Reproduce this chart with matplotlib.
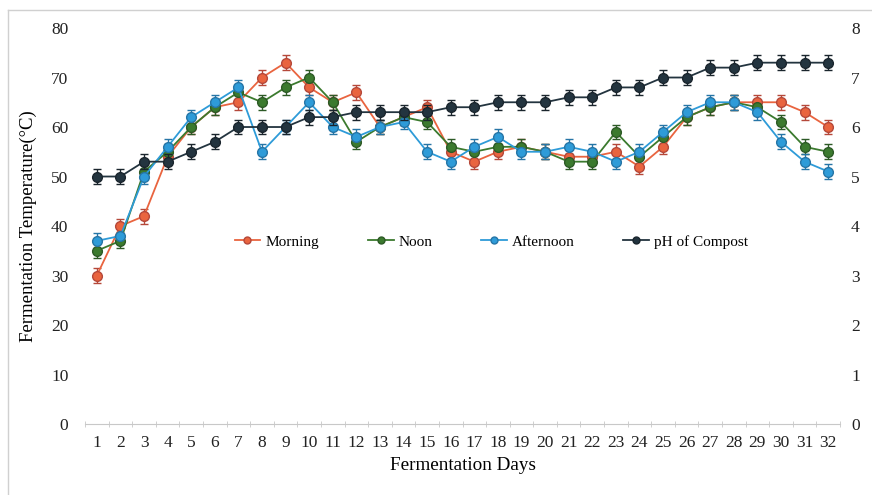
import matplotlib.pyplot as plt
from matplotlib.lines import Line2D

plt.rcParams["font.family"] = ["Liberation Serif", "DejaVu Serif"]

days = list(range(1, 33))
morning = [30, 40, 42, 54, 60, 64, 65, 70, 73, 68, 65, 67, 60, 62, 64, 55,
           53, 55, 56, 55, 54, 54, 55, 52, 56, 62, 64, 65, 65, 65, 63, 60]
noon = [35, 37, 51, 55, 60, 64, 67, 65, 68, 70, 65, 57, 60, 62, 61, 56,
        55, 56, 56, 55, 53, 53, 59, 54, 58, 62, 64, 65, 64, 61, 56, 55]
afternoon = [37, 38, 50, 56, 62, 65, 68, 55, 60, 65, 60, 58, 60, 61, 55, 53,
             56, 58, 55, 55, 56, 55, 53, 55, 59, 63, 65, 65, 63, 57, 53, 51]
ph = [5.0, 5.0, 5.3, 5.3, 5.5, 5.7, 6.0, 6.0, 6.0, 6.2, 6.2, 6.3, 6.3, 6.3, 6.3, 6.4,
      6.4, 6.5, 6.5, 6.5, 6.6, 6.6, 6.8, 6.8, 7.0, 7.0, 7.2, 7.2, 7.3, 7.3, 7.3, 7.3]
temp_err = 1.5
ph_err = 0.15

series = [
    ("Morning", morning, "#E9643F", "#B5483A"),
    ("Noon", noon, "#3B7A2E", "#2D5A26"),
    ("Afternoon", afternoon, "#2E9BD8", "#2675A6"),
]
ph_style = ("pH of Compost", "#23343F", "#1A252D")

fig = plt.figure(figsize=(8.72, 4.95), dpi=100)
ax = fig.add_axes([0.0975, 0.1434, 0.8658, 0.80])
ax2 = ax.twinx()

for name, vals, fc, ec in series:
    ax.errorbar(days, vals, yerr=temp_err, color=fc, ecolor=ec, elinewidth=1,
                capsize=3, capthick=1, lw=1.3, marker="o", ms=7,
                mfc=fc, mec=ec, mew=1, zorder=3)

name, fc, ec = ph_style
ax2.errorbar(days, ph, yerr=ph_err, color=fc, ecolor=ec, elinewidth=1,
             capsize=3, capthick=1, lw=1.3, marker="o", ms=7,
             mfc=fc, mec=ec, mew=1, zorder=3)

ax.set_xlim(0.5, 32.5)
ax.set_ylim(0, 80)
ax2.set_ylim(0, 8)
ax.set_yticks(range(0, 81, 10))
ax2.set_yticks(range(0, 9))
ax.set_xticks(days)
ax.set_xticks([d + 0.5 for d in range(0, 33)], minor=True)

for a in (ax, ax2):
    for s in ("top", "left", "right", "bottom"):
        a.spines[s].set_visible(False)
ax.spines["bottom"].set_visible(True)
ax.spines["bottom"].set_color("#C8C8C8")

ax.tick_params(axis="x", which="major", length=0, labelsize=12.5, pad=8, colors="#222222")
ax.tick_params(axis="x", which="minor", length=4, direction="inout", color="#C8C8C8")
ax.tick_params(axis="y", length=0, labelsize=12.5, pad=12, colors="#222222")
ax2.tick_params(axis="y", length=0, labelsize=12.5, pad=8, colors="#222222")

ax.set_xlabel("Fermentation Days", fontsize=13.8, labelpad=4)
ax.set_ylabel("Fermentation Temperature(°C)", fontsize=13.5, labelpad=10)

handles = []
for name, vals, fc, ec in series:
    handles.append(Line2D([], [], color=fc, lw=1.3, marker="o", ms=5, mfc=fc, mec=ec, label=name))
handles.append(Line2D([], [], color=ph_style[1], lw=1.3, marker="o", ms=5,
                      mfc=ph_style[1], mec=ph_style[2], label=ph_style[0]))
ax.legend(handles=handles, loc="center", bbox_to_anchor=(0.538, 0.46), ncol=4,
          frameon=False, fontsize=11, handlelength=1.7, handletextpad=0.3,
          columnspacing=3.2)

# chart area border
fig.add_artist(Line2D([0.009, 1.0], [0.98, 0.98], color="#D0D0D0", lw=1, transform=fig.transFigure))
fig.add_artist(Line2D([0.009, 0.009], [0.0, 0.98], color="#D0D0D0", lw=1, transform=fig.transFigure))

fig.savefig("out.png", dpi=100)
